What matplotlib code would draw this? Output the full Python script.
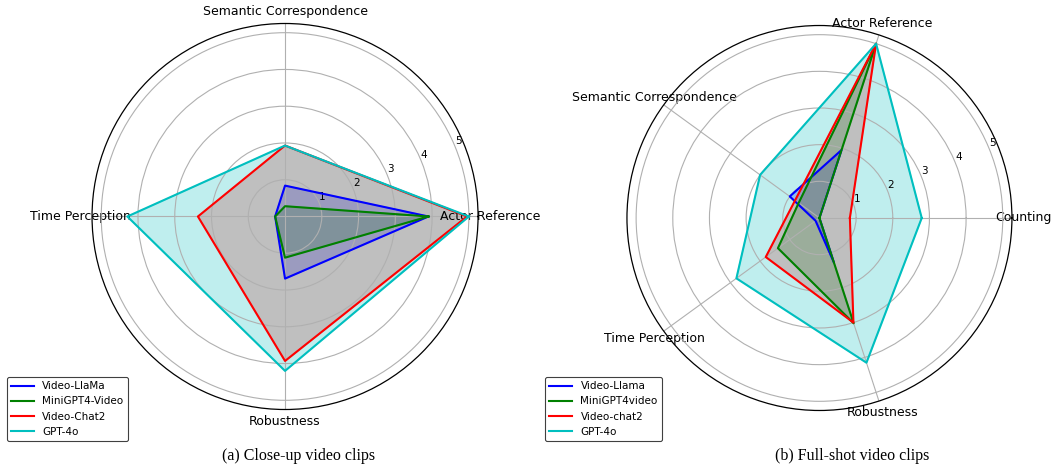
import numpy as np
import matplotlib.pyplot as plt
plt.switch_backend('agg')

# (a) close-up clips, categories counter-clockwise from 0 deg
cats_a = ["Actor Reference", "Semantic Correspondence", "Time Perception", "Robustness"]
names_a = ["Video-LlaMa", "MiniGPT4-Video", "Video-Chat2", "GPT-4o"]
llama_a = [3.9, 0.84, 0.27, 1.69]
minigpt_a = [3.9, 0.28, 0.27, 1.12]
chat2_a = [4.95, 1.93, 2.37, 3.93]
gpt4o_a = [5.0, 1.93, 4.29, 4.2]

# (b) full-shot clips
cats_b = ["Counting", "Actor Reference", "Semantic Correspondence", "Time Perception", "Robustness"]
names_b = ["Video-Llama", "MiniGPT4video", "Video-chat2", "GPT-4o"]
llama_b = [0.0, 1.95, 1.0, 0.13, 1.28]
minigpt_b = [0.0, 5.0, 0.7, 1.4, 3.02]
chat2_b = [0.83, 5.0, 0.82, 1.81, 3.0]
gpt4o_b = [2.79, 5.0, 2.0, 2.8, 4.15]

colors = ['b', 'g', 'r', 'c']


def radar(ax, cats, series, names):
    n = len(cats)
    angles = np.linspace(0, 2 * np.pi, n, endpoint=False).tolist()
    angles += angles[:1]
    for vals, name, col in zip(series, names, colors):
        v = list(vals) + [vals[0]]
        ax.plot(angles, v, color=col, linewidth=1.5, label=name)
        ax.fill(angles, v, color=col, alpha=0.25)
    ax.set_xticks(angles[:-1])
    ax.set_xticklabels(cats, fontsize=9)
    ax.set_ylim(0, 5.25)
    ax.set_yticks([1, 2, 3, 4, 5])
    ax.set_yticklabels(["1", "2", "3", "4", "5"], fontsize=7.5)
    ax.set_rlabel_position(22.5)
    ax.grid(color='#b0b0b0', linewidth=0.8)
    ax.spines['polar'].set_linewidth(0.9)
    ax.tick_params(axis='x', pad=-2)


fig = plt.figure(figsize=(10.53, 4.68), dpi=100)
ax1 = fig.add_axes([0.0874, 0.125, 0.3666, 0.8248], projection='polar')
ax2 = fig.add_axes([0.5954, 0.1229, 0.3656, 0.8226], projection='polar')

radar(ax1, cats_a, [llama_a, minigpt_a, chat2_a, gpt4o_a], names_a)
radar(ax2, cats_b, [llama_b, minigpt_b, chat2_b, gpt4o_b], names_b)

for ax, x0 in [(ax1, 0.0066), (ax2, 0.5176)]:
    leg = ax.legend(loc='lower left', bbox_to_anchor=(x0, 0.0577), bbox_transform=fig.transFigure,
                    borderaxespad=0, fontsize=7.5, framealpha=1, edgecolor='0.25',
                    handlelength=2.2, labelspacing=0.5)
    leg.get_frame().set_linewidth(0.8)

fig.text(298.5 / 1053, 1 - 456 / 468, "(a) Close-up video clips", ha='center', va='center',
         family='Liberation Serif', fontsize=11.5)
fig.text(852.5 / 1053, 1 - 456 / 468, "(b) Full-shot video clips", ha='center', va='center',
         family='Liberation Serif', fontsize=11.5)

fig.savefig("out.png", dpi=100)
